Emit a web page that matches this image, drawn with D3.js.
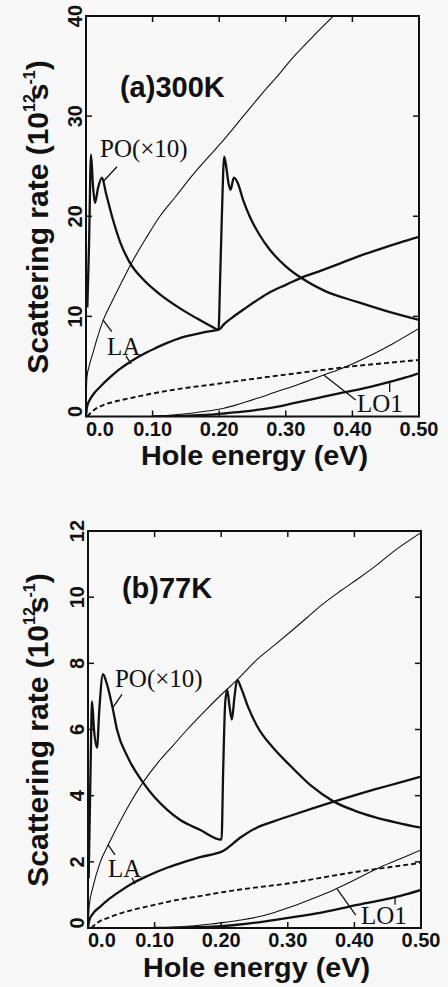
<!DOCTYPE html>
<html>
<head>
<meta charset="utf-8">
<script src="https://cdn.jsdelivr.net/npm/d3@7"></script>
<style>
  html, body { margin: 0; padding: 0; background: #f8f8f8; }
  svg { display: block; }
</style>
</head>
<body>
<svg id="chart" width="448" height="987"></svg>
<script>
// ---------- (a) 300 K : hole energy (eV) vs scattering rate (1e12 /s) ----------
const eLaSteep300 = [0, 0.0005, 0.0015, 0.005, 0.0105, 0.016, 0.026, 0.04, 0.055, 0.0706, 0.09, 0.111, 0.135, 0.16, 0.185, 0.207, 0.235, 0.265, 0.29, 0.308, 0.34, 0.372, 0.40];
const rLaSteep300 = [0, 2.2, 3.95, 5.1, 6.35, 7.65, 9.65, 11.6, 13.6, 15.6, 17.8, 20.0, 22.0, 24.1, 26.0, 27.65, 29.9, 32.3, 34.2, 35.65, 37.9, 40.05, 42.0];

const eLa300 = [0, 0.0015, 0.006, 0.012, 0.021, 0.035, 0.05, 0.066, 0.085, 0.105, 0.122, 0.14, 0.16, 0.18, 0.2, 0.207, 0.22, 0.24, 0.26, 0.276, 0.30, 0.323, 0.35, 0.38, 0.407, 0.44, 0.47, 0.5];
const rLa300 = [0, 0.95, 1.7, 2.3, 2.95, 3.85, 4.7, 5.45, 6.2, 6.85, 7.35, 7.8, 8.15, 8.45, 8.7, 9.2, 9.9, 10.85, 11.75, 12.4, 13.15, 13.85, 14.5, 15.25, 15.95, 16.7, 17.35, 17.95];

const ePo300 = [0.002, 0.0045, 0.0075, 0.0105, 0.0135, 0.018, 0.024, 0.030, 0.0405, 0.052, 0.066, 0.085, 0.111, 0.14, 0.165, 0.191, 0.199, 0.2015, 0.204, 0.2075, 0.21, 0.214, 0.217, 0.222, 0.228, 0.236, 0.246, 0.26, 0.276, 0.30, 0.323, 0.36, 0.407, 0.45, 0.5];
const rPo300 = [10.9, 17.0, 26.15, 23.0, 21.35, 22.8, 23.85, 22.3, 19.65, 17.3, 15.35, 13.75, 12.2, 10.85, 9.85, 8.9, 8.65, 14.0, 20.0, 25.95, 25.2, 23.3, 22.65, 23.85, 23.3, 21.6, 19.95, 18.2, 16.65, 15.0, 13.85, 12.5, 11.45, 10.55, 9.65];

const eDash300 = [0.002, 0.006, 0.012, 0.021, 0.035, 0.05, 0.071, 0.1, 0.13, 0.16, 0.185, 0.207, 0.25, 0.308, 0.35, 0.398, 0.45, 0.5];
const rDash300 = [0, 0.3, 0.65, 1.0, 1.35, 1.6, 1.9, 2.3, 2.65, 2.95, 3.15, 3.35, 3.75, 4.25, 4.6, 5.0, 5.33, 5.65];

const eLoThin300 = [0.1, 0.13, 0.16, 0.185, 0.207, 0.23, 0.257, 0.285, 0.31, 0.335, 0.357, 0.38, 0.398, 0.43, 0.46, 0.5];
const rLoThin300 = [0, 0.15, 0.35, 0.57, 0.82, 1.25, 1.82, 2.45, 3.0, 3.6, 4.15, 4.7, 5.2, 6.2, 7.25, 8.8];

const eLo300 = [0.1, 0.13, 0.16, 0.185, 0.207, 0.235, 0.26, 0.282, 0.31, 0.335, 0.357, 0.38, 0.407, 0.43, 0.456, 0.48, 0.5];
const rLo300 = [0, 0.04, 0.1, 0.18, 0.3, 0.48, 0.68, 0.92, 1.3, 1.65, 1.98, 2.3, 2.65, 3.0, 3.45, 3.9, 4.32];

// ---------- (b) 77 K ----------
const eLaSteep77 = [0, 0.002, 0.0075, 0.018, 0.030, 0.045, 0.0625, 0.0826, 0.105, 0.127, 0.149, 0.175, 0.2, 0.224, 0.254, 0.28, 0.305, 0.33, 0.35, 0.38, 0.405, 0.429, 0.46, 0.5];
const rLaSteep77 = [0, 0.7, 1.24, 1.97, 2.5, 3.1, 3.75, 4.4, 5.0, 5.5, 6.0, 6.55, 7.05, 7.5, 8.12, 8.55, 8.97, 9.4, 9.75, 10.2, 10.55, 10.9, 11.4, 11.95];

const eLa77 = [0, 0.002, 0.008, 0.018, 0.03, 0.045, 0.0676, 0.09, 0.1186, 0.145, 0.17, 0.19, 0.2, 0.23, 0.254, 0.28, 0.305, 0.335, 0.369, 0.4, 0.429, 0.465, 0.5];
const rLa77 = [0, 0.24, 0.45, 0.64, 0.85, 1.07, 1.36, 1.58, 1.82, 2.0, 2.15, 2.24, 2.3, 2.75, 3.04, 3.23, 3.4, 3.6, 3.82, 4.01, 4.18, 4.38, 4.58];

const ePo77 = [0.001, 0.004, 0.006, 0.009, 0.0135, 0.017, 0.0225, 0.028, 0.0375, 0.0435, 0.06, 0.0826, 0.1, 0.1186, 0.138, 0.168, 0.2005, 0.203, 0.206, 0.209, 0.2125, 0.216, 0.22, 0.224, 0.23, 0.24, 0.254, 0.28, 0.305, 0.335, 0.369, 0.4, 0.429, 0.465, 0.5];
const rPo77 = [1.5, 5.0, 6.85, 6.0, 5.45, 6.6, 7.67, 7.4, 6.6, 6.0, 5.15, 4.4, 3.95, 3.58, 3.27, 2.97, 2.67, 4.8, 6.8, 7.2, 6.7, 6.3, 7.0, 7.5, 7.25, 6.7, 6.1, 5.4, 4.88, 4.3, 3.82, 3.55, 3.36, 3.18, 3.03];

const eDash77 = [0.005, 0.0135, 0.033, 0.05, 0.0676, 0.1, 0.134, 0.17, 0.204, 0.25, 0.305, 0.35, 0.404, 0.45, 0.5];
const rDash77 = [0, 0.15, 0.33, 0.45, 0.55, 0.7, 0.85, 0.97, 1.09, 1.22, 1.36, 1.52, 1.7, 1.83, 1.97];

const eLoThin77 = [0.1, 0.13, 0.16, 0.185, 0.204, 0.23, 0.254, 0.28, 0.305, 0.335, 0.369, 0.4, 0.44, 0.47, 0.5];
const rLoThin77 = [0, 0.03, 0.07, 0.12, 0.17, 0.24, 0.33, 0.47, 0.64, 0.87, 1.15, 1.45, 1.85, 2.1, 2.36];

const eLo77 = [0.1, 0.14, 0.17, 0.204, 0.24, 0.279, 0.315, 0.354, 0.38, 0.404, 0.43, 0.455, 0.48, 0.5];
const rLo77 = [0, 0.01, 0.03, 0.06, 0.13, 0.24, 0.35, 0.48, 0.59, 0.7, 0.8, 0.9, 1.03, 1.15];

// ---------- axes ----------
const xTickValues = [0, 0.1, 0.2, 0.3, 0.4, 0.5];
const xTickLabels = ["0.0", "0.10", "0.20", "0.30", "0.40", "0.50"];
const yTicks300 = [0, 10, 20, 30, 40];
const yTicks77 = [0, 2, 4, 6, 8, 10, 12];
const xTitle = "Hole energy (eV)";

// annotation anchors in data units: [e, rate]
const notes300 = {
  tag: { text: "(a)300K", at: [0.051, 31.95] },
  labels: [
    { text: "PO(×10)", at: [0.021, 25.95] },
    { text: "LA", at: [0.0315, 6.15] },
    { text: "LO1", at: [0.407, 0.45] }
  ],
  leaders: [
    [0.0465, 24.95, 0.0255, 23.45],
    [0.0255, 9.65, 0.0386, 8.48],
    [0.06, 6.05, 0.0676, 5.25],
    [0.357, 4.15, 0.405, 1.65],
    [0.456, 3.4, 0.456, 2.45]
  ]
};
const notes77 = {
  tag: { text: "(b)77K", at: [0.051, 9.97] },
  labels: [
    { text: "PO(×10)", at: [0.0405, 7.27] },
    { text: "LA", at: [0.03, 1.55] },
    { text: "LO1", at: [0.41, 0.12] }
  ],
  leaders: [
    [0.051, 7.06, 0.0375, 6.67],
    [0.03, 2.52, 0.0405, 2.21],
    [0.066, 1.52, 0.0706, 1.33],
    [0.374, 1.18, 0.402, 0.39],
    [0.461, 0.93, 0.461, 0.70]
  ]
};

const zip = (xs, ys) => xs.map((x, i) => [x, ys[i]]);

const panels = [
  {
    id: "p300", xRange: [86, 419], yDomain: [0, 40], yRange: [416.5, 16],
    yTicks: yTicks300, yTitleY: 217, notes: notes300,
    series: [
      { d: zip(eLaSteep300, rLaSteep300), w: 1.1 },
      { d: zip(eLa300, rLa300), w: 2.3 },
      { d: zip(ePo300, rPo300), w: 2.3 },
      { d: zip(eDash300, rDash300), w: 1.9, dash: "5,3" },
      { d: zip(eLoThin300, rLoThin300), w: 1.1 },
      { d: zip(eLo300, rLo300), w: 2.3 }
    ]
  },
  {
    id: "p77", xRange: [88, 421], yDomain: [0, 12], yRange: [928, 531],
    yTicks: yTicks77, yTitleY: 730, notes: notes77,
    series: [
      { d: zip(eLaSteep77, rLaSteep77), w: 1.1 },
      { d: zip(eLa77, rLa77), w: 2.3 },
      { d: zip(ePo77, rPo77), w: 2.3 },
      { d: zip(eDash77, rDash77), w: 1.9, dash: "5,3" },
      { d: zip(eLoThin77, rLoThin77), w: 1.1 },
      { d: zip(eLo77, rLo77), w: 2.3 }
    ]
  }
];

const svg = d3.select("#chart");
const sans = "'Liberation Sans', Arial, Helvetica, sans-serif";
const serif = "'Liberation Serif', 'Times New Roman', serif";
const ink = "#111";

panels.forEach(p => {
  const x = d3.scaleLinear().domain([0, 0.5]).range(p.xRange);
  const y = d3.scaleLinear().domain(p.yDomain).range(p.yRange);
  const [x0, x1] = p.xRange;
  const [yb, yt] = p.yRange;
  const g = svg.append("g").attr("class", p.id);

  g.append("clipPath").attr("id", "clip-" + p.id)
    .append("rect").attr("x", x0).attr("y", yt).attr("width", x1 - x0).attr("height", yb - yt);

  // curves
  const line = d3.line().x(d => x(d[0])).y(d => y(d[1])).curve(d3.curveMonotoneX);
  const curves = g.append("g").attr("clip-path", `url(#clip-${p.id})`);
  p.series.forEach(s => {
    curves.append("path")
      .attr("d", line(s.d))
      .attr("fill", "none")
      .attr("stroke", ink)
      .attr("stroke-width", s.w)
      .attr("stroke-linejoin", "round")
      .attr("stroke-dasharray", s.dash || null);
  });

  // frame
  g.append("rect").attr("x", x0).attr("y", yt).attr("width", x1 - x0).attr("height", yb - yt)
    .attr("fill", "none").attr("stroke", ink).attr("stroke-width", 2);

  // inward ticks on all four sides
  const tickLen = 6;
  const innerX = xTickValues.slice(1, -1);
  const innerY = p.yTicks.slice(1, -1);
  const ticks = g.append("g").attr("stroke", ink).attr("stroke-width", 1.5);
  innerX.forEach(v => {
    ticks.append("line").attr("x1", x(v)).attr("x2", x(v)).attr("y1", yb).attr("y2", yb - tickLen);
    ticks.append("line").attr("x1", x(v)).attr("x2", x(v)).attr("y1", yt).attr("y2", yt + tickLen);
  });
  innerY.forEach(v => {
    ticks.append("line").attr("x1", x0).attr("x2", x0 + tickLen).attr("y1", y(v)).attr("y2", y(v));
    ticks.append("line").attr("x1", x1).attr("x2", x1 - tickLen).attr("y1", y(v)).attr("y2", y(v));
  });

  // x tick labels
  xTickValues.forEach((v, i) => {
    const first = i === 0;
    g.append("text")
      .attr("x", first ? x0 : x(v))
      .attr("y", yb + 19)
      .attr("text-anchor", first ? "start" : "middle")
      .attr("font-family", sans).attr("font-weight", "bold").attr("font-size", 20)
      .attr("fill", ink)
      .text(xTickLabels[i]);
  });

  // y tick labels, rotated
  p.yTicks.forEach((v, i) => {
    const yy = i === 0 ? y(v) - 5 : y(v);
    g.append("text")
      .attr("transform", `translate(${x0 - 4},${yy}) rotate(-90)`)
      .attr("text-anchor", "middle")
      .attr("font-family", sans).attr("font-weight", "bold").attr("font-size", 20)
      .attr("fill", ink)
      .text(v);
  });

  // x title
  g.append("text")
    .attr("x", (x0 + x1) / 2 + 2)
    .attr("y", yb + 48.5)
    .attr("text-anchor", "middle")
    .attr("font-family", sans).attr("font-weight", "bold").attr("font-size", 28)
    .attr("textLength", 227).attr("lengthAdjust", "spacingAndGlyphs")
    .attr("fill", ink)
    .text(xTitle);

  // y title with superscripts
  const yt2 = g.append("text")
    .attr("transform", `translate(48,${p.yTitleY}) rotate(-90)`)
    .attr("text-anchor", "middle")
    .attr("font-family", sans).attr("font-weight", "bold").attr("font-size", 30)
    .attr("fill", ink);
  yt2.append("tspan").text("Scattering rate (10");
  yt2.append("tspan").attr("font-size", 16).attr("dy", -13).text("12");
  yt2.append("tspan").attr("dy", 13).attr("dx", -6).text("s");
  yt2.append("tspan").attr("font-size", 16).attr("dy", -13).attr("dx", -1).text("-1");
  yt2.append("tspan").attr("dy", 13).text(")");

  // panel tag
  const n = p.notes;
  g.append("text")
    .attr("x", x(n.tag.at[0])).attr("y", y(n.tag.at[1]))
    .attr("font-family", sans).attr("font-weight", "bold").attr("font-size", 29)
    .attr("fill", ink)
    .text(n.tag.text);

  // curve labels and leaders
  n.labels.forEach(l => {
    g.append("text")
      .attr("x", x(l.at[0])).attr("y", y(l.at[1]))
      .attr("font-family", serif).attr("font-size", 25)
      .attr("fill", ink)
      .text(l.text);
  });
  n.leaders.forEach(s => {
    g.append("line")
      .attr("x1", x(s[0])).attr("y1", y(s[1]))
      .attr("x2", x(s[2])).attr("y2", y(s[3]))
      .attr("stroke", ink).attr("stroke-width", 1.3);
  });
});
</script>
</body>
</html>
